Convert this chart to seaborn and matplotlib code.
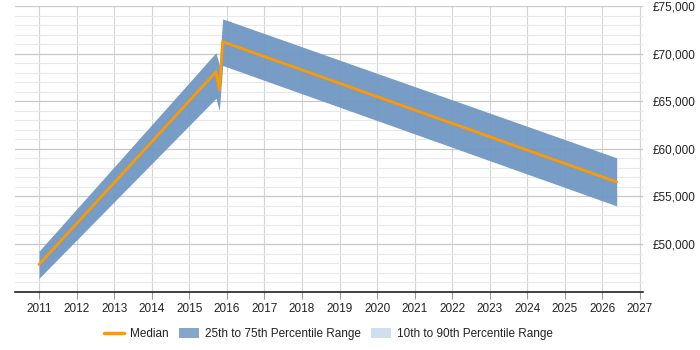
import numpy as np
import pandas as pd
import matplotlib
matplotlib.use("Agg")
import matplotlib.pyplot as plt
import seaborn as sns
from matplotlib.lines import Line2D
from matplotlib.patches import Patch
from matplotlib.ticker import FuncFormatter, MultipleLocator

# Data
years = [2011.0, 2015.71, 2015.80, 2015.89, 2026.38]
median = [47850, 68080, 66200, 71250, 56520]
p25 = [46400, 65300, 64000, 68750, 54000]
p75 = [49250, 70100, 68800, 73650, 59050]
year_ticks = list(range(2011, 2028))
salary_ticks = [50000, 55000, 60000, 65000, 70000, 75000]

df = pd.DataFrame({"year": years, "median": median, "p25": p25, "p75": p75})

sns.set_theme(style="white")
plt.rcParams['font.family'] = ['Liberation Sans', 'DejaVu Sans']

fig = plt.figure(figsize=(7, 3.5), dpi=100)
ax = fig.add_axes([15/700, 1-292/350, (643-15)/700, (292-6)/350])

ax.fill_between(df["year"], df["p25"], df["p75"], color="#7097c2", alpha=0.95,
                linewidth=0, zorder=2)
sns.lineplot(data=df, x="year", y="median", ax=ax, color="#ff9900", linewidth=2,
             zorder=3, legend=False)

ax.set_xlim(2010.36, 2027.08)
ax.set_ylim(44960, 75000)

ax.set_xticks(year_ticks)
ax.set_xticklabels([str(y) for y in year_ticks])
ax.set_yticks(salary_ticks)
ax.yaxis.set_minor_locator(MultipleLocator(1000))
ax.yaxis.set_major_formatter(FuncFormatter(lambda v, p: f"£{int(v):,}"))
ax.yaxis.tick_right()

ax.grid(False)
ax.grid(axis="y", which="major", color="#c8c8c8", linewidth=0.9, zorder=0)
ax.grid(axis="y", which="minor", color="#e8e8e8", linewidth=0.8, zorder=0)
ax.grid(axis="x", which="major", color="#d4d4d4", linewidth=0.8, zorder=0)
ax.set_axisbelow(True)

for s in ["top", "right", "left"]:
    ax.spines[s].set_visible(False)
ax.spines["bottom"].set_color("#222222")
ax.spines["bottom"].set_linewidth(1.2)

ax.tick_params(axis="x", which="major", length=5, width=0.8, color="#999999",
               labelsize=8.5, labelcolor="#222222", pad=3, bottom=True)
ax.tick_params(axis="y", which="both", length=0, labelsize=8.5,
               labelcolor="#222222", pad=7)
ax.set_xlabel("")
ax.set_ylabel("")

handles = [
    Line2D([0], [0], color="#ff9900", linewidth=2.5),
    Patch(facecolor="#84a6c9", edgecolor="none"),
    Patch(facecolor="#cfdff0", edgecolor="none"),
]
labels = ["Median", "25th to 75th Percentile Range", "10th to 90th Percentile Range"]
fig.legend(handles, labels, loc="center", bbox_to_anchor=(0.469, 0.045), ncol=3,
           frameon=False, fontsize=8.5, handlelength=1.7, handleheight=0.9,
           columnspacing=0.85, handletextpad=0.5, labelcolor="#222222")

fig.savefig("out.png", dpi=100)
